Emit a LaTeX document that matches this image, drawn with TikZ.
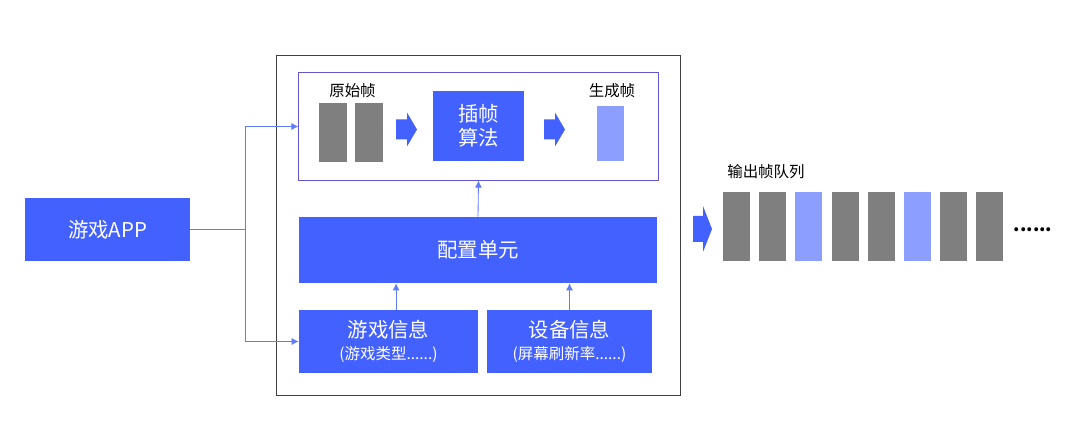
\documentclass[tikz,border=0pt]{standalone}
\usepackage{fontspec}
\setmainfont{Noto Sans CJK SC}
\usetikzlibrary{arrows.meta, positioning}
\definecolor{mainblue}{HTML}{4361FF}
\definecolor{lightblue}{HTML}{8C9EFF}
\definecolor{framegray}{HTML}{7F7F7F}
\definecolor{linkblue}{HTML}{5F7BFF}
\definecolor{innerpurple}{HTML}{6455D0}

\tikzset{
	blk/.style={fill=mainblue, text=white, inner sep=0pt, align=center, font=\fontsize{14.5}{17}\selectfont},
	frm/.style={fill=#1, inner sep=0pt, minimum width=0.675cm},
	lbl/.style={inner sep=0pt, font=\fontsize{11}{13}\selectfont},
	conn/.style={draw=linkblue, line width=0.6pt},
	tip/.style={-{Latex[length=5pt,width=5pt]}}
}

\begin{document}
\begin{tikzpicture}[x=0.025cm, y=-0.025cm]
		\useasboundingbox (0, 0) rectangle (1080, 439);
		\node[draw=black!75, line width=0.7pt, minimum width=10.075cm, minimum height=8.475cm] (outer) at (478.5, 225.5) {};
		\node[draw=innerpurple, line width=0.7pt, minimum width=8.975cm, minimum height=2.675cm] (inner) at (478.5, 126.5) {};
		\node[blk, minimum width=4.125cm, minimum height=1.575cm] (app) at (107.5, 229.5) {游戏APP};
		\node[frm=framegray, minimum height=1.45cm] (raw1) at (333, 132.5) {};
		\node[frm=framegray, minimum height=1.45cm] (raw2) at (369, 132.5) {};
		\node[lbl] (rawlbl) at (352.5, 91) {原始帧};
		\node[blk, minimum width=2.275cm, minimum height=1.75cm] (algo) at (478.5, 126) {插帧\\算法};
		\node[frm=lightblue, minimum height=1.375cm] (gen) at (610.5, 133.5) {};
		\node[lbl] (genlbl) at (612, 91) {生成帧};
		\node[blk, minimum width=8.95cm, minimum height=1.65cm] (cfg) at (478, 250) {配置单元};
		\node[blk, minimum width=4.475cm, minimum height=1.575cm] (gameinfo) at (388.5, 341.5)
			{游戏信息\\[-1pt]{\fontsize{11}{12}\selectfont (游戏类型......)}};
		\node[blk, minimum width=4.125cm, minimum height=1.575cm] (devinfo) at (569.5, 341.5)
			{设备信息\\[-1pt]{\fontsize{11}{12}\selectfont (屏幕刷新率......)}};
		\fill[mainblue] (396, 129.5) -- ++(0, -10) -- ++(11, 0) -- ++(0, -7) -- ++(10, 17) -- ++(-10, 17) -- ++(0, -7) -- ++(-11, 0) -- cycle;
		\fill[mainblue] (544, 129.5) -- ++(0, -10) -- ++(11, 0) -- ++(0, -7) -- ++(10, 17) -- ++(-10, 17) -- ++(0, -7) -- ++(-11, 0) -- cycle;
		\fill[mainblue] (693, 229) -- ++(0, -13) -- ++(10, 0) -- ++(0, -10) -- ++(9, 23) -- ++(-9, 23) -- ++(0, -10) -- ++(-10, 0) -- cycle;
		\coordinate (split) at (245, 229.5);
		\draw[conn] (app.east) -- (split);
		\draw[conn, tip] (split) |- (inner.west);
		\draw[conn, tip] (split) |- (gameinfo.west);
		\draw[conn, tip] (cfg.north) -- (inner.south);
		\draw[conn, tip] ([xshift=0.19cm]gameinfo.north) -- ([xshift=0.19cm]gameinfo.north |- cfg.south);
		\draw[conn, tip] (devinfo.north) -- (devinfo.north |- cfg.south);
		\node[lbl, anchor=west] (qlbl) at (727, 172) {输出帧队列};
		\foreach \i/\c in {0/framegray, 1/framegray, 2/lightblue, 3/framegray, 4/framegray, 5/lightblue, 6/framegray, 7/framegray}
			\node[frm=\c, minimum height=1.725cm] (q\i) at (736.5 + 36.2*\i, 226.5) {};
		\node[lbl, font=\fontsize{13}{14}\selectfont\bfseries] (more) at (1033, 230) {......};
	\end{tikzpicture}
\end{document}
